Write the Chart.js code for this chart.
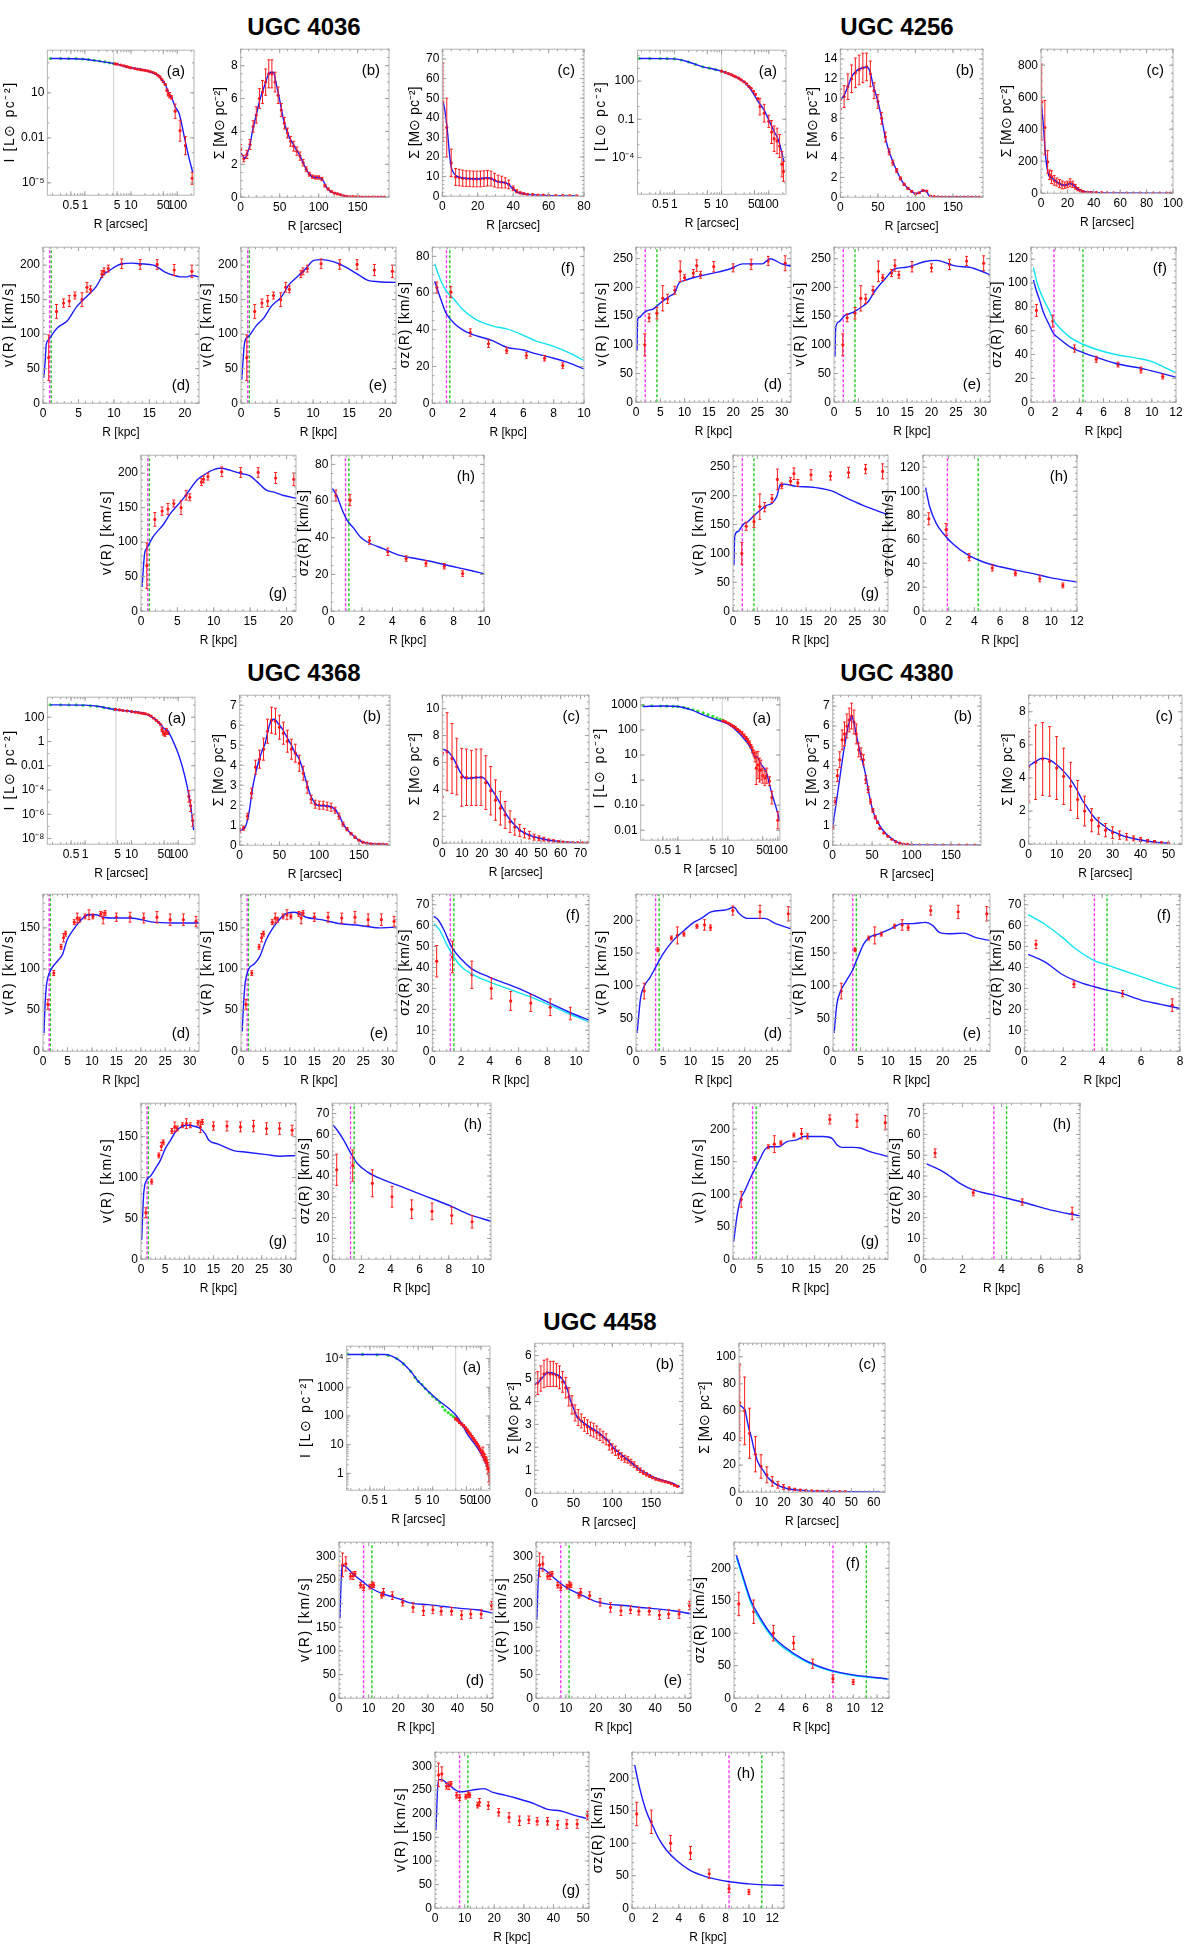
<!DOCTYPE html>
<html>
<head>
<meta charset="utf-8">
<script src="https://cdn.jsdelivr.net/npm/chart.js@4.4.1/dist/chart.umd.min.js"></script>
<style>
  html, body { margin: 0; padding: 0; background: #fff; }
  body { position: relative; width: 1200px; height: 1946px; overflow: hidden; font-family: "Liberation Sans", Arial, sans-serif; }
  .title { position: absolute; font-weight: bold; font-size: 24px; line-height: 24px; transform: translateX(-50%); white-space: nowrap; }
</style>
</head>
<body>
<div class="title" style="left:304px;top:15px">UGC 4036</div>
<div class="title" style="left:897px;top:15px">UGC 4256</div>
<div class="title" style="left:304px;top:661px">UGC 4368</div>
<div class="title" style="left:897px;top:661px">UGC 4380</div>
<div class="title" style="left:600px;top:1310px">UGC 4458</div>
<script>
// ---------- tick labels ----------
const logRTicks = [0.5, 1, 5, 10, 50, 100];
const logRLabels = ['0.5', '1', '5', '10', '50', '100'];
const yt4036 = [10, 0.01, 1e-5], yl4036 = ['10', '0.01', '10⁻⁵'];
const yt4256 = [100, 0.1, 1e-4], yl4256 = ['100', '0.1', '10⁻⁴'];
const yt4368 = [100, 1, 0.01, 1e-4, 1e-6, 1e-8], yl4368 = ['100', '1', '0.01', '10⁻⁴', '10⁻⁶', '10⁻⁸'];
const yt4380 = [1000, 100, 10, 1, 0.1, 0.01], yl4380 = ['1000', '100', '10', '1', '0.10', '0.01'];
const yt4458 = [1e4, 1000, 100, 10, 1], yl4458 = ['10⁴', '1000', '100', '10', '1'];

// ---------- UGC 4036 ----------
const a4036_R = [0.18, 0.5, 1, 2, 4.2, 10, 20, 38, 46, 50, 56, 68, 75, 90, 110, 147, 178, 216];
const a4036_I = [1950, 1900, 1750, 1300, 900, 470, 320, 150, 80, 55, 32, 7, 5, 1.2, 0.4, 0.007, 5e-4, 5e-5];
const a4036_gR = [0.18, 0.3, 0.45, 0.65, 0.9, 1.2, 1.6, 2.1, 2.7, 3.4, 4.2];
const a4036_gI = [1950, 1950, 1930, 1900, 1800, 1680, 1500, 1330, 1150, 1000, 900];
const a4036_rR = [4.5, 5, 6, 7, 8, 9, 10, 12, 14, 16, 18, 20, 23, 26, 30, 34, 38, 42, 46, 50, 55, 60, 64, 68, 75, 90, 115, 150, 210];
const a4036_rI = [870, 820, 720, 640, 570, 510, 470, 420, 380, 350, 335, 320, 290, 260, 225, 190, 150, 115, 80, 55, 36, 15, 8, 7, 5, 0.6, 0.03, 0.003, 2e-5];
const a4036_rF = [1.05, 1.05, 1.05, 1.05, 1.05, 1.05, 1.05, 1.05, 1.05, 1.05, 1.05, 1.05, 1.05, 1.05, 1.05, 1.05, 1.05, 1.05, 1.05, 1.05, 1.1, 1.2, 1.3, 1.5, 1.3, 3, 5, 4, 2.5];

const b4036_R = [0, 3, 5, 8, 12, 15, 20, 25, 30, 35, 38, 42, 45, 50, 55, 60, 65, 70, 75, 80, 85, 90, 95, 100, 105, 110, 115, 120, 125, 135, 150, 185];
const b4036_S = [2.7, 2.5, 2.35, 2.6, 3.2, 4.0, 5.0, 6.0, 6.7, 7.4, 7.6, 7.6, 7.0, 5.9, 4.7, 3.9, 3.4, 3.0, 2.6, 2.1, 1.6, 1.3, 1.2, 1.2, 1.05, 0.6, 0.35, 0.25, 0.2, 0.05, 0.01, 0];
const b4036_rR = [0, 4, 8, 12, 16, 20, 24, 28, 32, 36, 40, 44, 48, 52, 56, 60, 64, 68, 72, 76, 80, 84, 88, 92, 96, 100, 104, 108, 112, 116, 120, 124, 128, 132, 136, 140, 144, 148, 152, 156, 160, 164, 168, 172, 176, 180, 184];
const b4036_rS = [2.9, 2.35, 2.6, 3.2, 4.3, 5.0, 6.0, 6.4, 7.0, 7.5, 7.5, 7.0, 6.2, 5.3, 4.5, 3.9, 3.4, 3.1, 2.8, 2.5, 2.1, 1.7, 1.4, 1.25, 1.2, 1.2, 1.1, 0.7, 0.5, 0.35, 0.25, 0.2, 0.15, 0.08, 0.05, 0.04, 0.03, 0.02, 0.02, 0.01, 0.01, 0.01, 0.01, 0.01, 0.01, 0.01, 0.01];
const b4036_rE = [0.3, 0.2, 0.25, 0.3, 0.35, 0.5, 0.6, 0.7, 0.8, 0.85, 0.85, 0.6, 0.5, 0.4, 0.35, 0.3, 0.3, 0.3, 0.25, 0.25, 0.2, 0.15, 0.12, 0.1, 0.1, 0.1, 0.1, 0.08, 0.06, 0.05, 0.04, 0.03, 0.03, 0.02, 0.02, 0.02, 0.02, 0.02, 0.02, 0.02, 0.02, 0.02, 0.02, 0.02, 0.02, 0.02, 0.02];

const c4036_R = [0.3, 1, 2, 3, 4, 5, 6, 7.6, 10, 15, 20, 25, 28, 31.5, 36, 38, 40, 42.4, 45, 49, 55, 60, 70, 76];
const c4036_S = [48, 46, 40, 32, 22, 15, 12.5, 10.5, 9.6, 9, 8.8, 9.5, 8.8, 7.3, 6.8, 5.5, 3.7, 2.0, 1.4, 0.85, 0.5, 0.3, 0.2, 0.2];
const c4036_rR = [0.3, 2.5, 5, 7.5, 9.5, 11.5, 13.5, 15.5, 17.5, 19.5, 21.5, 23.5, 25.5, 27.5, 29.5, 31.5, 33.5, 35.5, 37.5, 40, 42, 44, 46, 48, 51, 54, 57, 60, 64, 68, 72, 76];
const c4036_rS = [48, 35, 17, 9.8, 9.5, 9.2, 9, 8.9, 8.8, 8.8, 8.8, 9, 9.2, 9, 8.2, 7.5, 7.2, 6.8, 6, 4, 2.5, 1.7, 1.3, 1, 0.8, 0.6, 0.5, 0.4, 0.3, 0.3, 0.25, 0.2];
const c4036_rE = [20, 15, 7, 4.3, 4.2, 4.1, 4, 4, 4, 4, 4, 4, 4, 3.8, 3.5, 3.2, 3, 2.6, 2.2, 1.2, 0.8, 0.5, 0.4, 0.3, 0.3, 0.2, 0.2, 0.2, 0.15, 0.15, 0.1, 0.1];

const v4036_R = [0.8, 1.9, 2.9, 3.7, 4.5, 5.5, 6.2, 6.7, 8.3, 8.6, 9.2, 11.1, 13.7, 16.1, 18.5, 21];
const v4036_V = [66, 133, 145, 148, 156, 150, 168, 165, 187, 191, 195, 202, 201, 201, 193, 191];
const v4036_E = [33, 10, 6, 8, 5, 10, 7, 5, 5, 5, 5, 7, 7, 7, 8, 9];
const d4036_R = [0.1, 0.3, 0.45, 0.8, 1.2, 2, 3, 3.4, 4.75, 5.5, 6.4, 7.5, 8.5, 9.5, 10.2, 11.2, 12.5, 13.7, 15.6, 17.2, 18.5, 19.4, 20.3, 21, 22];
const d4036_V = [37, 60, 85, 92, 98, 109, 116, 119, 140, 148, 157, 169, 186, 193, 198, 202, 203, 202, 200, 190, 185, 183, 183, 185, 183];
const e4036_R = [0.1, 0.3, 0.5, 1.06, 2.1, 3.2, 4.25, 5.6, 6.6, 8, 9, 10.1, 11.2, 12.8, 14.4, 16, 17.6, 19.1, 21.5];
const e4036_V = [34, 65, 88, 97, 112, 124, 141, 154, 171, 185, 195, 207, 208, 205, 198, 188, 178, 176, 175];
const g4036_R = [0.14, 0.5, 0.83, 1.74, 3.1, 4.0, 5.4, 6.3, 7.7, 8.6, 10, 10.9, 12.3, 13.7, 15, 16, 17.3, 18.3, 19.6, 21.3];
const g4036_V = [35, 84, 92, 109, 126, 141, 158, 170, 190, 197, 205, 207, 204, 199.5, 196, 187, 175, 172.5, 167.6, 163.7];

const s4036_R = [0.3, 1.22, 2.5, 3.7, 4.9, 6.2, 7.4, 8.6];
const s4036_S = [63, 60.5, 38.5, 32.4, 28.7, 26, 24.5, 20.5];
const s4036_E = [3, 3, 2, 2, 1.5, 1.5, 1.5, 1.5];
const f4036_R = [0.15, 0.3, 0.5, 0.8, 0.93, 1.5, 2, 2.55, 3, 4, 4.9, 6, 6.8, 8, 9, 10];
const f4036_S = [66.5, 63, 58, 51, 48.7, 43, 40, 37.8, 36.5, 34, 30.5, 29, 27, 24.5, 22, 18.7];
const f4036_cR = [0.15, 0.5, 0.93, 1.4, 2, 2.8, 4, 4.9, 6, 6.8, 8, 9, 10];
const f4036_cS = [76, 68, 61, 57, 51, 46, 42, 40.5, 37, 34, 31, 27.5, 23.3];
const h4036_R = [0.07, 0.39, 0.72, 1.04, 1.48, 1.9, 2.35, 3.43, 4.5, 5.6, 6.7, 7.8, 8.9, 10];
const h4036_S = [66.8, 62.3, 55, 49.5, 45, 40.4, 37.7, 34, 30.4, 28.6, 26.8, 24.6, 22.6, 20.4];
const dash4036 = [0.93, 1.15];

// ---------- UGC 4256 ----------
const a4256_R = [0.18, 0.5, 1, 2, 4, 6, 10, 20, 30, 40, 60, 80, 100, 130, 160, 210];
const a4256_I = [6000, 5900, 5600, 3200, 1330, 980, 610, 218, 88, 27, 2.4, 0.53, 0.088, 0.011, 0.0024, 5e-5];
const a4256_gR = [0.18, 0.3, 0.5, 0.7, 1, 1.4, 2, 2.8, 4, 5.5, 7.5, 10];
const a4256_gI = [6000, 6000, 5900, 5800, 5600, 4600, 3200, 2100, 1330, 1050, 800, 610];
const a4256_rR = [10, 12, 14, 16, 18, 20, 23, 26, 30, 34, 38, 42, 47, 52, 58, 65, 80, 100, 115, 130, 150, 170, 190, 205];
const a4256_rI = [610, 480, 390, 320, 260, 218, 170, 125, 88, 60, 38, 27, 16, 9, 4, 1.0, 0.3, 0.07, 0.01, 0.003, 0.002, 0.0008, 3e-5, 8e-6];
const a4256_rF = [1.05, 1.05, 1.05, 1.05, 1.05, 1.05, 1.05, 1.05, 1.05, 1.05, 1.05, 1.05, 1.1, 1.1, 1.2, 4.5, 5, 3, 8, 10, 10, 8, 10, 6];

const b4256_R = [0, 5, 10, 15, 20, 25, 30, 35, 38, 41, 44, 47, 50, 55, 60, 65, 70, 75, 80, 85, 90, 95, 100, 105, 110, 115, 118, 125, 150, 185];
const b4256_S = [9.9, 10.3, 11.2, 12.2, 12.7, 13.0, 13.1, 13.2, 13.0, 12.3, 11.2, 10.5, 9.7, 8.0, 6.0, 4.6, 3.6, 2.7, 1.9, 1.3, 0.9, 0.6, 0.35, 0.45, 0.68, 0.6, 0.15, 0.05, 0.02, 0];
const b4256_rR = [0, 5, 10, 15, 20, 25, 30, 35, 40, 45, 50, 55, 60, 65, 70, 75, 80, 85, 90, 95, 100, 105, 110, 115, 120, 125, 130, 135, 140, 145, 150, 155, 160, 165, 170, 175, 180, 185];
const b4256_rS = [9.9, 10.2, 11.2, 12.0, 12.6, 12.9, 13.1, 13.2, 12.5, 10.8, 9.7, 8.0, 6.1, 4.6, 3.5, 2.7, 1.9, 1.3, 0.9, 0.6, 0.35, 0.45, 0.68, 0.62, 0.12, 0.05, 0.03, 0.02, 0.02, 0.01, 0.01, 0.01, 0.01, 0.01, 0.01, 0.01, 0.01, 0.01];
const b4256_rE = [1.0, 1.1, 1.3, 1.4, 1.5, 1.5, 1.5, 1.4, 1.3, 0.8, 0.7, 0.6, 0.5, 0.3, 0.25, 0.2, 0.15, 0.12, 0.1, 0.08, 0.06, 0.06, 0.07, 0.07, 0.04, 0.03, 0.02, 0.02, 0.02, 0.02, 0.02, 0.02, 0.02, 0.02, 0.02, 0.02, 0.02, 0.02];

const c4256_R = [0.3, 1, 2, 3, 4, 5, 6, 8, 10, 12, 15, 18, 20, 22, 24, 26, 28, 30, 35, 40, 50, 60, 100];
const c4256_S = [560, 500, 400, 280, 190, 140, 110, 95, 85, 70, 55, 50, 55, 60, 55, 40, 25, 15, 8, 5, 2, 1, 0];
const c4256_rR = [0.5, 2.9, 5, 6.4, 8, 10, 12, 14, 16, 18, 20, 22, 24, 26, 28, 30, 32, 35, 38, 42, 46, 50, 55, 60, 65, 70, 75, 80, 85, 90, 95, 98];
const c4256_rS = [570, 410, 196, 115, 100, 80, 70, 60, 52, 50, 55, 65, 55, 40, 25, 15, 10, 7, 5, 4, 3, 2, 1.5, 1, 1, 1, 0.5, 0.5, 0.5, 0.5, 0.5, 0.5];
const c4256_rE = [237, 170, 70, 30, 40, 30, 25, 25, 25, 20, 20, 25, 20, 15, 10, 6, 4, 3, 2, 2, 1, 1, 1, 1, 1, 1, 1, 1, 1, 1, 1, 1];

const v4256_R = [1.8, 2.7, 4.3, 5.5, 6.5, 8, 9.1, 10, 11.8, 12.5, 13.3, 16, 20, 23.7, 27.2, 30.7];
const v4256_V = [100, 147, 155, 181, 180, 195, 228, 217, 225, 238, 222, 236, 234, 240, 246, 242];
const v4256_E = [19, 7, 10, 22, 8, 7, 18, 5, 6, 10, 6, 9, 7, 9, 8, 13];
const d4256_R = [0.2, 0.35, 0.8, 1.2, 1.8, 2.5, 3.5, 4.5, 5.5, 7, 8, 8.8, 10, 12.3, 15.4, 19.3, 22, 26, 27.6, 30, 31.9];
const d4256_V = [90, 145, 148, 152, 157, 160, 162, 169, 176, 185, 191, 207, 212, 218, 224, 232, 241, 241, 250, 241, 237];
const e4256_R = [0.2, 0.35, 1, 2.2, 3.5, 4.6, 5.5, 6.9, 8.5, 10.5, 12.4, 14.8, 18.7, 21, 25, 27.8, 30, 32];
const e4256_V = [80, 130, 140, 151, 155, 160, 165, 174, 195, 215, 232, 235, 245, 247, 237, 235, 229, 222];
const g4256_R = [0.2, 0.35, 1, 2.2, 2.9, 4.9, 6.9, 8, 9, 9.7, 10.5, 13, 15.8, 19.9, 24, 27.3, 31.8];
const g4256_V = [80, 130, 138, 151, 154, 170, 183, 187, 199, 219, 220, 216, 215, 209, 193, 181, 167];

const s4256_R = [0.45, 1.8, 3.6, 5.4, 7.2, 9.1, 10.9];
const s4256_S = [77, 68, 45, 36, 31.5, 27, 21.5];
const s4256_E = [5, 5, 3, 2.5, 2, 2.5, 2];
const f4256_R = [0.2, 0.4, 0.73, 1, 1.5, 1.84, 2.5, 3.3, 4.3, 5.5, 7.2, 9.3, 10.5, 12];
const f4256_S = [102.5, 95, 85, 76, 65, 58, 52, 46, 41.6, 37.4, 32, 28, 25, 21];
const f4256_cR = [0.2, 0.5, 1, 1.5, 1.84, 2.5, 3.3, 4.3, 5.5, 7, 8.7, 9.9, 11, 12];
const f4256_cS = [113, 100, 87, 77, 69, 61, 54, 48.6, 44, 40, 37, 34.5, 29.5, 24.7];
const h4256_R = [0.2, 0.52, 1.04, 1.56, 2.34, 3.4, 4.7, 6, 7.3, 8.6, 9.9, 12];
const h4256_S = [103, 87, 73, 65, 56, 47.5, 41, 37, 34, 31.3, 28, 24.3];
const dash4256 = [1.9, 4.3];

// ---------- UGC 4368 ----------
const a4368_R = [0.18, 1, 2, 4, 10, 20, 30, 40, 50, 62, 178, 215];
const a4368_I = [1050, 1000, 760, 460, 295, 190, 83, 32, 12, 6.6, 1.5e-5, 5e-8];
const a4368_gR = [0.18, 0.3, 0.45, 0.65, 0.9, 1.3, 1.8, 2.5, 3.3, 4.2];
const a4368_gI = [1050, 1050, 1040, 1030, 960, 880, 800, 650, 540, 450];
const a4368_rR = [4.5, 5.5, 6.5, 8, 10, 12, 14, 16, 18, 20, 23, 26, 30, 34, 38, 42, 45, 48, 52, 56, 60, 170, 185, 205];
const a4368_rI = [440, 400, 360, 330, 295, 260, 240, 220, 205, 190, 160, 125, 83, 55, 38, 25, 10, 5, 4, 8, 5, 3e-5, 5e-6, 3e-7];
const a4368_rF = [1.05, 1.05, 1.05, 1.05, 1.05, 1.05, 1.05, 1.05, 1.05, 1.05, 1.05, 1.05, 1.05, 1.05, 1.05, 1.05, 1.5, 1.5, 1.5, 1.5, 1.3, 3, 3, 3];

const b4368_R = [0, 4, 8, 12, 16, 20, 24, 28, 32, 36, 40, 44, 48, 53, 58, 65, 70, 75, 80, 85, 89, 93, 97, 104, 111, 116, 121, 126, 131, 136, 140, 145, 150, 155, 160, 170, 180, 185];
const b4368_S = [0.75, 0.8, 1.0, 1.7, 2.8, 3.6, 4.2, 4.7, 5.1, 5.8, 6.25, 6.3, 6.1, 5.85, 5.5, 5.0, 4.6, 4.3, 3.7, 3.0, 2.5, 2.2, 2.0, 1.97, 1.96, 1.9, 1.75, 1.4, 1.0, 0.75, 0.58, 0.4, 0.25, 0.15, 0.1, 0.06, 0.05, 0.03];
const b4368_rR = [0, 5, 10, 15, 20, 25, 30, 35, 40, 45, 50, 55, 60, 65, 70, 75, 80, 85, 90, 95, 100, 105, 110, 115, 120, 125, 130, 135, 140, 145, 150, 155, 160, 165, 170, 175, 180, 185];
const b4368_rS = [0.75, 0.85, 1.45, 2.6, 3.9, 4.3, 4.8, 5.7, 6.25, 6.2, 5.9, 5.6, 5.2, 4.8, 4.6, 4.1, 3.6, 2.9, 2.3, 2.05, 2.0, 2.0, 1.95, 1.9, 1.75, 1.45, 1.05, 0.8, 0.58, 0.4, 0.25, 0.15, 0.1, 0.07, 0.06, 0.05, 0.05, 0.03];
const b4368_rE = [0.1, 0.1, 0.15, 0.25, 0.35, 0.45, 0.55, 0.6, 0.65, 0.65, 0.6, 0.55, 0.55, 0.5, 0.45, 0.4, 0.35, 0.3, 0.2, 0.2, 0.2, 0.2, 0.2, 0.2, 0.15, 0.15, 0.1, 0.08, 0.06, 0.05, 0.03, 0.03, 0.02, 0.02, 0.02, 0.02, 0.02, 0.02];

const c4368_R = [0, 3, 6, 9, 12, 15, 20, 22, 25, 28, 31, 34, 37, 40, 45, 50, 55, 60, 65, 70, 74];
const c4368_S = [7.0, 6.8, 6.2, 5.3, 4.8, 4.85, 4.9, 4.7, 4.0, 3.3, 2.5, 1.8, 1.3, 0.9, 0.55, 0.35, 0.2, 0.12, 0.06, 0.03, 0.02];
const c4368_rR = [0, 2.4, 4.9, 7.3, 9.8, 12.2, 14.7, 17.1, 19.6, 22, 24.5, 26.9, 29.4, 31.8, 34.3, 36.7, 39.2, 41.6, 44.1, 46.5, 49, 51.4, 53.9, 56.3, 58.8, 61.2, 63.7, 66.1, 68.6, 71, 73.5];
const c4368_rS = [6.7, 6.8, 6.3, 5.7, 4.9, 4.9, 4.85, 4.9, 4.9, 4.5, 3.9, 3.2, 2.6, 2.1, 1.6, 1.2, 0.95, 0.75, 0.6, 0.45, 0.37, 0.3, 0.22, 0.17, 0.12, 0.09, 0.07, 0.05, 0.04, 0.03, 0.02];
const c4368_rE = [3.3, 2.9, 2.6, 2.1, 2.15, 2.1, 2.05, 2.1, 2.1, 2.0, 1.8, 1.5, 1.25, 1.0, 0.8, 0.6, 0.45, 0.35, 0.28, 0.22, 0.18, 0.14, 0.1, 0.08, 0.06, 0.05, 0.04, 0.03, 0.02, 0.02, 0.02];

const v4368_R = [1.0, 2.2, 3.7, 4.2, 4.6, 6.4, 7.0, 7.5, 8.6, 9.4, 10.2, 11.8, 12.3, 12.7, 15, 17.8, 20.6, 23.3, 26, 28.7, 31.3];
const v4368_V = [57, 95, 127, 138, 143, 157, 162, 160, 164, 166, 164, 167, 162, 168, 163, 163, 162, 163, 160, 160, 158];
const v4368_E = [6, 3, 3, 5, 3, 3, 6, 3, 3, 6, 3, 3, 7, 3, 5, 6, 6, 7, 7, 7, 6];
const d4368_R = [0.2, 0.4, 0.7, 1.0, 1.8, 3, 4, 4.9, 6.1, 7.7, 9.2, 10.8, 12.3, 14.7, 17.8, 22.5, 26.4, 31.9];
const d4368_V = [22, 55, 80, 90, 101, 110, 118, 135, 147, 159, 166, 166, 163, 162, 162, 157, 156, 156];
const e4368_R = [0.23, 0.5, 0.8, 1.57, 2.7, 3.9, 5.1, 6.3, 7.8, 9.4, 11, 13.3, 16.4, 20.4, 24.3, 28.2, 31.9];
const e4368_V = [24, 55, 80, 100, 106, 116, 135, 148, 160, 168, 169, 163, 160, 155, 153, 150, 151];
const g4368_R = [0.14, 0.55, 1.24, 1.93, 2.97, 4, 5, 6.1, 7.1, 8.5, 9.9, 11.6, 12.3, 13.3, 14, 16, 19.2, 21.9, 26, 28.8, 32];
const g4368_V = [23.6, 80, 97.6, 101.6, 111, 121, 135, 145.5, 155.7, 162.6, 164, 161.8, 160, 153.7, 146, 141, 133, 131, 128, 126, 127];

const s4368_R = [0.3, 1.4, 2.75, 4.1, 5.45, 6.85, 8.2, 9.6];
const s4368_S = [43, 45, 36.5, 30, 24, 23, 21, 18];
const s4368_E = [7.5, 7.5, 6.5, 5, 4.5, 4, 4, 3];
const f4368_R = [0.1, 0.4, 0.8, 1.33, 2, 2.7, 4, 6, 8, 10, 10.9];
const f4368_S = [64.4, 62.8, 58, 50, 44, 39.6, 35.3, 30, 23.6, 17.3, 14.9];
const f4368_cR = [0.1, 0.5, 1, 1.5, 2, 3, 4, 5, 6, 7, 8, 9, 10, 10.9];
const f4368_cS = [61, 58, 51, 45, 40.5, 36, 33, 30.5, 28, 25.5, 22.5, 19.5, 16.5, 14];
const h4368_R = [0.05, 0.34, 0.8, 1.26, 1.72, 2.4, 3.56, 4.7, 5.86, 7, 8.16, 9.3, 11];
const h4368_S = [64.5, 62, 57, 51, 46, 42, 38, 35, 31.8, 28.7, 25.5, 21.8, 18];
const dash4368 = [1.25, 1.5];

// ---------- UGC 4380 ----------
const a4380_R = [0.2, 0.5, 1, 1.86, 3.2, 5.4, 7.7, 11, 15.5, 22, 29, 34.6, 38, 45, 58, 76, 100, 108];
const a4380_I = [860, 910, 860, 630, 400, 270, 215, 160, 86, 40, 18.5, 8.6, 8.6, 4.6, 2.15, 0.29, 0.046, 0.025];
const a4380_gR = [0.2, 0.3, 0.45, 0.6, 0.8, 1.0, 1.3, 1.6, 2.0, 2.5, 3.2, 4, 5, 6, 7, 8];
const a4380_gI = [950, 920, 900, 890, 880, 860, 800, 720, 640, 560, 480, 410, 350, 300, 265, 240];
const a4380_rR = [8, 9, 10, 11, 12, 13, 14, 15.5, 17, 19, 21, 23, 25, 27, 29, 31, 33, 35, 37, 40, 43, 46, 50, 55, 60, 68, 76, 100];
const a4380_rI = [230, 210, 190, 170, 150, 140, 125, 105, 90, 75, 60, 48, 38, 30, 22, 16, 12, 8, 3, 4, 2.5, 2.5, 1.5, 1.2, 1.5, 0.9, 0.2, 0.025];
const a4380_rF = [1.05, 1.05, 1.05, 1.05, 1.08, 1.08, 1.1, 1.1, 1.1, 1.15, 1.15, 1.15, 1.2, 1.2, 1.2, 1.3, 1.3, 1.5, 4.5, 3.5, 3, 2.5, 2, 2, 2, 1.5, 1.8, 2.2];

const b4380_R = [0, 4.9, 9.8, 14.6, 19.5, 22, 24.4, 26, 29.3, 34, 41.5, 46, 51, 58.5, 66, 73, 83, 100, 120, 187];
const b4380_S = [0.9, 2.24, 3.6, 4.9, 5.95, 6.3, 6.5, 6.3, 5.7, 4.8, 3.6, 2.6, 1.73, 1.06, 0.64, 0.39, 0.13, 0.02, 0.01, 0];
const b4380_rR = [0, 3, 6, 9, 12, 15, 18, 21, 24, 27, 30, 33, 36, 39, 42, 45, 48, 51, 54, 57, 60, 65, 70, 75, 80, 85, 90, 95, 100, 110, 120, 130, 140, 150, 160, 170, 180];
const b4380_rS = [0.9, 2.2, 3.5, 4.3, 5.3, 5.6, 6.0, 6.3, 6.5, 6.2, 5.6, 4.8, 4.6, 4.3, 3.3, 2.8, 2.2, 1.75, 1.4, 1.15, 0.85, 0.62, 0.45, 0.3, 0.18, 0.1, 0.06, 0.04, 0.02, 0.01, 0.01, 0.01, 0.01, 0.01, 0.01, 0.01, 0.01];
const b4380_rE = [0.1, 0.2, 0.3, 0.4, 0.5, 0.6, 0.6, 0.6, 0.65, 0.6, 0.5, 0.35, 0.3, 0.25, 0.2, 0.15, 0.12, 0.1, 0.08, 0.06, 0.05, 0.04, 0.03, 0.02, 0.02, 0.02, 0.02, 0.02, 0.02, 0.02, 0.02, 0.02, 0.02, 0.02, 0.02, 0.02, 0.02];

const c4380_R = [0, 2.5, 5, 7.5, 10, 12.5, 15, 17.5, 19, 21, 23, 25, 27, 29, 31, 33, 36, 39.5, 43, 46, 50];
const c4380_S = [4.72, 5.0, 5.2, 5.1, 4.8, 4.4, 3.9, 3.2, 2.7, 2.2, 1.7, 1.35, 1.1, 0.85, 0.7, 0.55, 0.4, 0.27, 0.17, 0.1, 0.06];
const c4380_rR = [0, 2.5, 5, 7.5, 10, 12.5, 15, 17.5, 20, 22.5, 25, 27.5, 30, 32.5, 35, 37.5, 40, 42.5, 45, 47.5, 50];
const c4380_rS = [4.7, 4.95, 5.15, 5.0, 4.6, 4.1, 3.5, 2.7, 2.0, 1.45, 1.1, 0.85, 0.7, 0.55, 0.45, 0.35, 0.28, 0.2, 0.15, 0.1, 0.07];
const c4380_rE = [2.1, 2.25, 2.2, 2.1, 1.9, 1.7, 1.45, 1.15, 0.9, 0.7, 0.5, 0.4, 0.35, 0.25, 0.2, 0.15, 0.12, 0.08, 0.06, 0.04, 0.03];

const v4380_R = [1.5, 4.0, 6.5, 7.6, 8.8, 11.2, 12.6, 13.7, 17.8, 22.8, 28];
const v4380_V = [92, 155, 173, 177, 179, 191, 193, 189, 215, 213, 210];
const v4380_E = [12, 3, 3, 13, 3, 3, 8, 4, 7, 10, 11];
const d4380_R = [0.2, 0.5, 0.84, 1.54, 2.6, 3.64, 5, 6.8, 8.9, 10.6, 12, 13.8, 16.6, 18, 19, 20.4, 23.6, 25.7, 28.5];
const d4380_V = [28, 55, 82, 100, 113, 129, 149, 169, 185, 197, 203, 213, 216, 220, 210, 203, 203, 195, 187];
const e4380_R = [0.2, 0.7, 1.4, 2.45, 3.5, 4.55, 5.6, 6.65, 8.4, 10.5, 12.6, 14.4, 16.8, 18.2, 19.3, 21, 23.8, 25.9, 28.6];
const e4380_V = [28, 72, 92, 108, 123, 144, 164, 174, 179.5, 187, 195, 195, 197, 192, 182, 179.5, 180.5, 174, 169];
const g4380_R = [0.12, 0.73, 1.35, 2.26, 3.2, 4.1, 5, 5.9, 6.85, 8.4, 9.9, 11.7, 13, 14.8, 16.6, 18.2, 19.1, 20, 22.1, 23.4, 25.2, 28.5];
const g4380_V = [27, 66, 91, 107, 125, 140, 155, 169, 173, 173, 181, 183.6, 188.7, 188.7, 188.7, 186, 176, 172, 172, 171, 165.6, 158];

const s4380_R = [0.6, 2.55, 5.05, 7.6];
const s4380_S = [51, 32, 27.5, 22];
const s4380_E = [2, 1.5, 1.5, 3];
const f4380_R = [0.2, 1.03, 2, 3, 3.6, 4.25, 5, 6, 7, 8];
const f4380_S = [46.3, 42.8, 36.4, 32.4, 30.8, 29.2, 27.6, 24.4, 22.4, 20.4];
const f4380_cR = [0.2, 1, 2, 2.6, 3.6, 4.25, 5, 6, 7, 8];
const f4380_cS = [65.2, 61, 54, 49.2, 43.3, 41.2, 38.8, 35.6, 32.4, 29.6];
const h4380_R = [0.17, 1.02, 1.87, 2.55, 3.57, 4.26, 5.28, 6.47, 8];
const h4380_S = [45.8, 42, 36.5, 33.3, 30.9, 29.3, 26.9, 23.7, 20.8];
const dash4380 = [3.6, 4.25];

// ---------- UGC 4458 ----------
const a4458_R = [0.17, 1, 2, 3.6, 4.8, 6.5, 11.7, 21, 30, 38, 51, 76, 100, 137, 150];
const a4458_I = [13800, 13800, 8800, 3400, 1760, 1050, 410, 190, 108, 63, 25, 10, 5, 1.7, 1.3];
const a4458_gR = [0.17, 0.35, 0.7, 1.2, 1.8, 2.5, 3.5, 4.3, 5, 6, 7, 8.5, 10, 12, 14, 16, 18, 21, 24, 27, 30];
const a4458_gI = [14500, 14000, 13500, 13000, 10000, 6500, 3600, 2200, 1600, 1250, 900, 640, 480, 380, 290, 210, 160, 130, 110, 95, 85];
const a4458_rR = [30, 33, 36, 40, 44, 48, 52, 56, 60, 65, 70, 75, 80, 85, 90, 95, 100, 105, 110, 115, 120, 125, 130, 135, 140, 145, 150];
const a4458_rI = [80, 72, 60, 52, 45, 38, 32, 27, 23, 19, 16, 13.5, 11.5, 10, 8.5, 7, 6, 5, 5.5, 3.8, 3.5, 3, 2.5, 2, 1.5, 1.0, 0.8];
const a4458_rF = [1.1, 1.1, 1.1, 1.1, 1.1, 1.1, 1.1, 1.1, 1.1, 1.1, 1.1, 1.1, 1.1, 1.1, 1.1, 1.1, 1.15, 1.2, 1.5, 1.3, 1.3, 1.3, 1.4, 1.5, 1.6, 2, 2];

const b4458_R = [0, 5, 9, 13, 17, 22, 26, 30, 35, 41, 46, 50, 54, 58, 62, 70, 78, 84, 89, 94, 100, 105, 113, 121, 129, 137, 145, 153, 163, 174, 187];
const b4458_S = [4.76, 4.85, 5.0, 5.15, 5.27, 5.25, 5.2, 5.15, 5.0, 4.64, 4.06, 3.7, 3.36, 3.2, 3.1, 2.9, 2.74, 2.6, 2.45, 2.3, 2.05, 1.87, 1.65, 1.43, 1.2, 1.0, 0.85, 0.7, 0.58, 0.48, 0.29];
const b4458_rR = [0, 4, 8, 12, 16, 20, 24, 28, 32, 36, 40, 44, 48, 52, 56, 60, 64, 68, 72, 76, 80, 84, 88, 92, 96, 100, 104, 108, 112, 116, 120, 124, 128, 132, 136, 140, 144, 148, 152, 156, 160, 164, 168, 172, 176, 180, 184];
const b4458_rS = [4.75, 4.8, 5.0, 5.2, 5.25, 5.2, 5.2, 5.15, 5.05, 4.85, 4.6, 4.2, 3.85, 3.5, 3.3, 3.15, 3.0, 2.9, 2.8, 2.75, 2.65, 2.55, 2.45, 2.35, 2.1, 1.95, 1.85, 1.7, 1.6, 1.5, 1.45, 1.35, 1.25, 1.1, 1.0, 0.9, 0.82, 0.75, 0.68, 0.62, 0.58, 0.54, 0.5, 0.47, 0.42, 0.35, 0.3];
const b4458_rE = [0.5, 0.5, 0.55, 0.6, 0.6, 0.55, 0.55, 0.5, 0.5, 0.45, 0.45, 0.4, 0.4, 0.35, 0.35, 0.3, 0.3, 0.3, 0.3, 0.3, 0.28, 0.25, 0.25, 0.24, 0.22, 0.2, 0.2, 0.18, 0.16, 0.15, 0.14, 0.13, 0.12, 0.1, 0.1, 0.08, 0.07, 0.06, 0.05, 0.05, 0.04, 0.04, 0.04, 0.03, 0.03, 0.03, 0.03];

const c4458_R = [0, 1, 2, 2.7, 3.5, 4.5, 5.5, 6.5, 7.5, 8.2, 9.5, 10.9, 12.5, 14.5, 16, 18, 20, 23.6, 27, 30, 35, 40, 50, 63];
const c4458_S = [65, 63.5, 62, 60.5, 54, 46, 40.5, 33, 27, 23, 19, 15.7, 11.5, 8.2, 6.3, 4.5, 3.3, 2.0, 1.4, 1.0, 0.7, 0.5, 0.3, 0.15];
const c4458_rR = [0.3, 2.5, 4.7, 7.3, 9.8, 12.4, 14.8, 17.3, 19.8, 22.3, 24.8, 27.3, 29.8, 32.3, 34.8, 37.3, 39.8, 42.3, 44.8, 47.3];
const c4458_rS = [66, 60, 43.5, 28, 19, 12.8, 8, 5.5, 3.8, 2.7, 2.0, 1.5, 1.2, 1.0, 0.8, 0.7, 0.6, 0.5, 0.45, 0.4];
const c4458_rE = [28, 25, 18.5, 13, 8.7, 5.9, 3.5, 2.5, 1.8, 1.2, 0.9, 0.6, 0.5, 0.4, 0.3, 0.3, 0.25, 0.2, 0.2, 0.15];

const v4458_R = [1.2, 2.3, 3.9, 4.7, 5.4, 7.3, 8.3, 10.4, 11.2, 11.7, 14.4, 15.0, 18, 21.5, 25, 28.5, 31.7, 34.5, 38, 41.4, 44.5, 48, 51.5];
const v4458_V = [282, 284, 258, 259, 263, 239, 234, 236, 240, 239, 218, 224, 217, 203, 192, 185, 187, 184, 184, 176, 178, 178, 196];
const v4458_E = [25, 15, 6, 8, 5, 6, 6, 5, 6, 5, 6, 8, 8, 8, 10, 10, 8, 8, 8, 9, 9, 9, 9];
const d4458_R = [0.3, 1.0, 1.66, 2.5, 4.4, 7.9, 11.3, 14.8, 20.3, 24.4, 30, 35.5, 41, 46.5, 52];
const d4458_V = [169, 279, 280, 277, 265, 247, 231, 221, 210, 201, 198, 194, 190, 187, 180];
const e4458_R = [0.28, 1.0, 2.6, 5.4, 8.8, 11.6, 15.7, 19.9, 24, 29.6, 35, 40.6, 46, 52];
const e4458_V = [166, 275, 273, 258, 240, 229, 217, 205, 199, 196, 192, 189, 185, 178.5];
const g4458_R = [0.3, 1.1, 2.2, 3.9, 7.2, 8.6, 10.5, 13.8, 16.6, 19.3, 22.6, 27, 32.6, 38.1, 42.5, 46.9, 51.1];
const g4458_V = [165, 272, 272, 265, 249, 246, 247.5, 251, 253, 245.6, 240.6, 233.6, 223, 209, 205.7, 197, 190];

const s4458_R = [0.4, 1.65, 3.3, 5.0, 6.6, 8.3, 10];
const s4458_S = [145, 133, 100, 85, 53, 30, 25];
const s4458_E = [18, 18, 12, 10, 7, 6, 4];
const f4458_R = [0.2, 0.76, 1.44, 2.13, 3.16, 4.2, 5.9, 8, 10, 13];
const f4458_S = [220, 187, 149, 125.6, 97.4, 79.5, 59, 43.6, 35.9, 29.7];
const f4458_cR = [0.2, 0.76, 1.44, 2.13, 3.16, 4.2, 5.9, 8, 10, 13];
const f4458_cS = [216, 183, 145, 122, 94.5, 77, 57.5, 42.5, 35, 29.2];
const h4458_R = [0.23, 0.65, 1.22, 1.79, 2.35, 2.92, 3.77, 4.9, 6.3, 8.2, 10, 11.4, 13];
const h4458_S = [220, 185, 149, 126, 105, 90, 74, 59, 48.7, 41, 37.4, 35.9, 34.9];
const dash4458 = [8.3, 11.1];

// ---------- drawing ----------
Chart.defaults.font.family = '"Liberation Sans", Arial, Helvetica, sans-serif';
Chart.defaults.font.size = 12;
Chart.defaults.color = '#000';

const BLUE = '#1c1cff', CYAN = '#10e4f4', RED = '#ff1a1a', GREEN = '#30e030', MAG = '#ff33ff', DGREEN = '#22cc22', GRAY = '#cfcfcf';
const FONT = '"Liberation Sans", Arial, Helvetica, sans-serif';

function xy(R, V) { return R.map((r, i) => ({ x: r, y: V[i] })); }
function line(R, V, color) {
  return { data: xy(R, V), borderColor: color || BLUE, borderWidth: 1.4, pointRadius: 0, cubicInterpolationMode: 'monotone', fill: false };
}
function pts(R, V, E, color) {
  const c = color || RED;
  return { data: xy(R, V), showLine: false, pointRadius: 1.6, pointBackgroundColor: c, pointBorderWidth: 0, borderColor: c, err: E };
}
function ptsF(R, V, F, color) {
  const c = color || RED;
  return { data: xy(R, V), showLine: false, pointRadius: 1.6, pointBackgroundColor: c, pointBorderWidth: 0, borderColor: c, errF: F };
}
function vline(x, y0, y1, color, dash) {
  return { data: [{ x: x, y: y0 }, { x: x, y: y1 }], borderColor: color, borderWidth: dash ? 1.4 : 1, borderDash: dash || [], pointRadius: 0 };
}

// axis helpers; y titles are drawn by the frame plugin (slightly spaced out along the axis like the original)
function lin(min, max, step, title) {
  return {
    step: step, title: title,
    scale: {
      type: 'linear', min: min, max: max,
      title: { display: false },
      grid: { display: false, drawTicks: false }, border: { display: false },
      ticks: { autoSkip: false, maxRotation: 0, padding: 3 },
      afterBuildTicks: s => {
        const t = [];
        for (let v = min; v <= max + step * 1e-6; v += step) t.push({ value: +v.toFixed(6) });
        s.ticks = t;
      }
    }
  };
}
function lg(min, max, vals, labels, title) {
  return {
    step: 'log', title: title,
    scale: {
      type: 'logarithmic', min: min, max: max,
      title: { display: false },
      grid: { display: false, drawTicks: false }, border: { display: false },
      ticks: { autoSkip: false, maxRotation: 0, padding: 3, callback: v => { const i = vals.indexOf(v); return i >= 0 ? labels[i] : ''; } },
      afterBuildTicks: s => { s.ticks = vals.map(v => ({ value: v })); }
    }
  };
}
function withXTitle(ax) {
  ax.scale.title = { display: true, text: ax.title, padding: { top: 2, bottom: 1 } };
  return ax;
}

function minorVals(s, step) {
  const out = [];
  if (step === 'log') {
    const k0 = Math.floor(Math.log10(s.min)), k1 = Math.ceil(Math.log10(s.max));
    const dense = (k1 - k0) <= 6;
    for (let k = k0; k <= k1; k++) {
      for (let m = 1; m <= 9; m++) {
        if (m > 1 && !dense) break;
        const v = m * Math.pow(10, k);
        if (v >= s.min && v <= s.max) out.push(v);
      }
    }
  } else {
    const lead = Math.round(step / Math.pow(10, Math.floor(Math.log10(step))));
    const ms = step / (lead === 2 ? 4 : 5);
    for (let v = s.min; v <= s.max + 1e-9; v += ms) out.push(v);
  }
  return out;
}

const YLEN = { 'I [L⊙ pc⁻²]': 88, 'Σ [M⊙ pc⁻²]': 72, 'v(R) [km/s]': 92, 'σz(R) [km/s]': 86 };

const framePlugin = {
  id: 'frame',
  afterDatasetsDraw(chart) {
    const ctx = chart.ctx, a = chart.chartArea, xs = chart.scales.x, ys = chart.scales.y;
    ctx.save();
    ctx.beginPath();
    ctx.rect(a.left, a.top, a.right - a.left, a.bottom - a.top);
    ctx.clip();
    chart.data.datasets.forEach(ds => {
      const E = ds.err || ds.errF;
      if (!E) return;
      ctx.strokeStyle = ds.borderColor;
      ctx.lineWidth = 1;
      ds.data.forEach((p, j) => {
        const lo = ds.errF ? p.y / E[j] : p.y - E[j];
        const hi = ds.errF ? p.y * E[j] : p.y + E[j];
        const x = xs.getPixelForValue(p.x), y1 = ys.getPixelForValue(lo), y2 = ys.getPixelForValue(hi);
        ctx.beginPath();
        ctx.moveTo(x, y1); ctx.lineTo(x, y2);
        ctx.moveTo(x - 1.5, y1); ctx.lineTo(x + 1.5, y1);
        ctx.moveTo(x - 1.5, y2); ctx.lineTo(x + 1.5, y2);
        ctx.stroke();
      });
    });
    ctx.restore();
  },
  afterDraw(chart, args, o) {
    const ctx = chart.ctx, a = chart.chartArea, xs = chart.scales.x, ys = chart.scales.y;
    ctx.save();
    ctx.strokeStyle = '#b4b4b4';
    ctx.lineWidth = 1;
    ctx.strokeRect(a.left, a.top, a.right - a.left, a.bottom - a.top);
    ctx.strokeStyle = '#a0a0a0';
    const tick = (s, vals, len) => vals.forEach(v => {
      const p = s.getPixelForValue(v);
      ctx.beginPath();
      if (s.isHorizontal()) {
        ctx.moveTo(p, a.bottom); ctx.lineTo(p, a.bottom - len);
        ctx.moveTo(p, a.top); ctx.lineTo(p, a.top + len);
      } else {
        ctx.moveTo(a.left, p); ctx.lineTo(a.left + len, p);
        ctx.moveTo(a.right, p); ctx.lineTo(a.right - len, p);
      }
      ctx.stroke();
    });
    tick(xs, minorVals(xs, o.xs), 2);
    tick(ys, minorVals(ys, o.ys), 2);
    tick(xs, xs.ticks.map(t => t.value), 4);
    tick(ys, ys.ticks.map(t => t.value), 4);
    ctx.fillStyle = '#000';
    if (o.label) {
      ctx.font = '15px ' + FONT;
      ctx.textAlign = 'right';
      ctx.textBaseline = 'middle';
      ctx.fillText(o.label, a.right - (o.labelDx || 9), o.bottom ? a.bottom - 17 : a.top + 22);
    }
    if (o.ytitle) {
      ctx.font = '14px ' + FONT;
      const t = o.ytitle, target = YLEN[t] || 0;
      const w = ctx.measureText(t).width;
      ctx.translate(ys.left - 8, (a.top + a.bottom) / 2);
      ctx.rotate(-Math.PI / 2);
      ctx.textBaseline = 'middle';
      let sp = 0;
      if ('letterSpacing' in ctx && target > w) {
        sp = Math.min(1.6, (target - w) / Math.max(1, [...t].length - 1));
        ctx.letterSpacing = sp.toFixed(2) + 'px';
      }
      const len = w + sp * ([...t].length - 1);
      ctx.textAlign = 'left';
      ctx.fillText(t, -len / 2, 0);
    }
    ctx.restore();
  }
};
Chart.register(framePlugin);

function panel(box, o) {
  const L = box[0], T = box[1], pw = box[2] - box[0], ph = box[3] - box[1];
  const cv = document.createElement('canvas');
  cv.width = pw + 90; cv.height = ph + 60;
  cv.style.position = 'absolute';
  document.body.appendChild(cv);
  const chart = new Chart(cv, {
    type: 'line',
    data: { datasets: o.sets },
    options: {
      responsive: false, maintainAspectRatio: false, animation: false,
      layout: { padding: { top: 8, right: 10, left: 17, bottom: 0 } },
      plugins: {
        legend: { display: false }, tooltip: { enabled: false },
        frame: { label: o.label, bottom: o.bottom, labelDx: o.labelDx, xs: o.x.step, ys: o.y.step, ytitle: o.y.title }
      },
      scales: { x: withXTitle(o.x).scale, y: o.y.scale }
    }
  });
  for (let k = 0; k < 4; k++) {
    const a = chart.chartArea;
    const dw = pw - Math.round(a.right - a.left), dh = ph - Math.round(a.bottom - a.top);
    if (!dw && !dh) break;
    chart.resize(chart.width + dw, chart.height + dh);
  }
  const a = chart.chartArea;
  cv.style.left = (L - a.left) + 'px';
  cv.style.top = (T - a.top) + 'px';
}

const TI = 'I [L⊙ pc⁻²]', TS = 'Σ [M⊙ pc⁻²]', TV = 'v(R) [km/s]', TZ = 'σz(R) [km/s]', RA = 'R [arcsec]', RK = 'R [kpc]';
const DASH = [3, 2];

function galaxy(pos, a, b, c, v, s, lines) {
  panel(pos.a, { x: lg(a.xr[0], a.xr[1], logRTicks, logRLabels, RA), y: lg(a.yr[0], a.yr[1], a.yt, a.yl, TI), label: '(a)',
    sets: [line(a.R, a.I), ptsF(a.rR, a.rI, a.rF), pts(a.gR, a.gI, null, GREEN), vline(a.cut, a.yr[0], a.yr[1], GRAY)] });
  panel(pos.b, { x: lin(0, b.xr[0], 50, RA), y: lin(0, b.yr[0], b.yr[1], TS), label: '(b)',
    sets: [line(b.R, b.S), pts(b.rR, b.rS, b.rE)] });
  panel(pos.c, { x: lin(0, c.xr[0], c.xr[1], RA), y: lin(0, c.yr[0], c.yr[1], TS), label: '(c)',
    sets: [line(c.R, c.S), pts(c.rR, c.rS, c.rE)] });
  const vp = (box, R, V, xmax, lab) => panel(box, { x: lin(0, xmax, v.step, RK), y: lin(0, v.ymax, 50, TV), label: lab, bottom: true,
    sets: [line(R, V), pts(v.R, v.V, v.E), vline(lines[0], 0, v.ymax, MAG, DASH), vline(lines[1], 0, v.ymax, DGREEN, DASH)] });
  vp(pos.d, v.dR, v.dV, v.xd, '(d)');
  vp(pos.e, v.eR, v.eV, v.xe, '(e)');
  vp(pos.g, v.gR, v.gV, v.xg, '(g)');
  const sp = (box, sets, lab) => panel(box, { x: lin(0, s.xmax, 2, RK), y: lin(0, s.ymax, s.step, TZ), label: lab, labelDx: s.labDx,
    sets: sets.concat([pts(s.R, s.S, s.E), vline(lines[0], 0, s.ymax, MAG, DASH), vline(lines[1], 0, s.ymax, DGREEN, DASH)]) });
  sp(pos.f, [line(s.fR, s.fS), line(s.cR, s.cS, CYAN)], '(f)');
  sp(pos.h, [line(s.hR, s.hS)], '(h)');
}

galaxy(
  { a: [47, 50, 194, 195], b: [241, 49, 389, 197], c: [442, 49, 584, 196], d: [43, 247, 199, 403], e: [241, 247, 396, 403], f: [432, 247, 584, 403], g: [141, 455, 296, 611], h: [331, 455, 484, 611] },
  { xr: [0.155, 230], yr: [1.5e-6, 7000], yt: yt4036, yl: yl4036, cut: 4.2, R: a4036_R, I: a4036_I, gR: a4036_gR, gI: a4036_gI, rR: a4036_rR, rI: a4036_rI, rF: a4036_rF },
  { xr: [190], yr: [9, 2], R: b4036_R, S: b4036_S, rR: b4036_rR, rS: b4036_rS, rE: b4036_rE },
  { xr: [80, 20], yr: [75, 10], R: c4036_R, S: c4036_S, rR: c4036_rR, rS: c4036_rS, rE: c4036_rE },
  { step: 5, ymax: 226, xd: 22, xe: 21.5, xg: 21.3, R: v4036_R, V: v4036_V, E: v4036_E, dR: d4036_R, dV: d4036_V, eR: e4036_R, eV: e4036_V, gR: g4036_R, gV: g4036_V },
  { xmax: 10, ymax: 85, step: 20, R: s4036_R, S: s4036_S, E: s4036_E, fR: f4036_R, fS: f4036_S, cR: f4036_cR, cS: f4036_cS, hR: h4036_R, hS: h4036_S },
  dash4036
);
galaxy(
  { a: [638, 50, 786, 194], b: [840, 49, 983, 197], c: [1041, 49, 1173, 193], d: [636, 247, 791, 402], e: [834, 247, 990, 402], f: [1031, 247, 1176, 402], g: [733, 455, 888, 611], h: [923, 455, 1077, 611] },
  { xr: [0.165, 232], yr: [1.3e-7, 27000], yt: yt4256, yl: yl4256, cut: 10, R: a4256_R, I: a4256_I, gR: a4256_gR, gI: a4256_gI, rR: a4256_rR, rI: a4256_rI, rF: a4256_rF },
  { xr: [190], yr: [15, 2], R: b4256_R, S: b4256_S, rR: b4256_rR, rS: b4256_rS, rE: b4256_rE },
  { xr: [100, 20], yr: [900, 200], R: c4256_R, S: c4256_S, rR: c4256_rR, rS: c4256_rS, rE: c4256_rE },
  { step: 5, ymax: 270, xd: 31.9, xe: 32, xg: 31.8, R: v4256_R, V: v4256_V, E: v4256_E, dR: d4256_R, dV: d4256_V, eR: e4256_R, eV: e4256_V, gR: g4256_R, gV: g4256_V },
  { xmax: 12, ymax: 130, step: 20, R: s4256_R, S: s4256_S, E: s4256_E, fR: f4256_R, fS: f4256_S, cR: f4256_cR, cS: f4256_cS, hR: h4256_R, hS: h4256_S },
  dash4256
);
galaxy(
  { a: [47, 697, 195, 844], b: [240, 695, 390, 845], c: [442, 695, 589, 843], d: [43, 894, 199, 1051], e: [241, 894, 397, 1051], f: [432, 894, 589, 1051], g: [141, 1103, 296, 1259], h: [332, 1103, 491, 1259] },
  { xr: [0.155, 230], yr: [3.4e-9, 4500], yt: yt4368, yl: yl4368, cut: 4.6, R: a4368_R, I: a4368_I, gR: a4368_gR, gI: a4368_gI, rR: a4368_rR, rI: a4368_rI, rF: a4368_rF },
  { xr: [189], yr: [7.5, 1], R: b4368_R, S: b4368_S, rR: b4368_rR, rS: b4368_rS, rE: b4368_rE },
  { xr: [74.3, 10], yr: [11, 2], R: c4368_R, S: c4368_S, rR: c4368_rR, rS: c4368_rS, rE: c4368_rE },
  { step: 5, ymax: 191, xd: 31.9, xe: 31.9, xg: 32.1, R: v4368_R, V: v4368_V, E: v4368_E, dR: d4368_R, dV: d4368_V, eR: e4368_R, eV: e4368_V, gR: g4368_R, gV: g4368_V },
  { xmax: 10.9, ymax: 75, step: 10, R: s4368_R, S: s4368_S, E: s4368_E, fR: f4368_R, fS: f4368_S, cR: f4368_cR, cS: f4368_cS, hR: h4368_R, hS: h4368_S },
  dash4368
);
galaxy(
  { a: [641, 697, 780, 840], b: [833, 695, 981, 845], c: [1029, 695, 1182, 844], d: [636, 894, 791, 1051], e: [833, 894, 990, 1051], f: [1024, 894, 1180, 1051], g: [733, 1103, 888, 1259], h: [923, 1103, 1080, 1259] },
  { xr: [0.18, 110], yr: [0.004, 2030], yt: yt4380, yl: yl4380, cut: 7.7, R: a4380_R, I: a4380_I, gR: a4380_gR, gI: a4380_gI, rR: a4380_rR, rI: a4380_rI, rF: a4380_rF },
  { xr: [188], yr: [7.55, 1], R: b4380_R, S: b4380_S, rR: b4380_rR, rS: b4380_rS, rE: b4380_rE },
  { xr: [54.8, 10], yr: [9, 2], R: c4380_R, S: c4380_S, rR: c4380_rR, rS: c4380_rS, rE: c4380_rE },
  { step: 5, ymax: 240, xd: 28.5, xe: 28.6, xg: 28.5, R: v4380_R, V: v4380_V, E: v4380_E, dR: d4380_R, dV: d4380_V, eR: e4380_R, eV: e4380_V, gR: g4380_R, gV: g4380_V },
  { xmax: 8, ymax: 75, step: 10, R: s4380_R, S: s4380_S, E: s4380_E, fR: f4380_R, fS: f4380_S, cR: f4380_cR, cS: f4380_cS, hR: h4380_R, hS: h4380_S },
  dash4380
);
galaxy(
  { a: [347, 1346, 490, 1490], b: [535, 1343, 683, 1493], c: [739, 1343, 885, 1492], d: [339, 1542, 493, 1698], e: [536, 1542, 691, 1698], f: [734, 1542, 889, 1698], g: [435, 1752, 589, 1908], h: [632, 1752, 784, 1908] },
  { xr: [0.165, 154], yr: [0.26, 27000], yt: yt4458, yl: yl4458, cut: 30, R: a4458_R, I: a4458_I, gR: a4458_gR, gI: a4458_gI, rR: a4458_rR, rI: a4458_rI, rF: a4458_rF },
  { xr: [191], yr: [6.54, 1], R: b4458_R, S: b4458_S, rR: b4458_rR, rS: b4458_rS, rE: b4458_rE },
  { xr: [65, 10], yr: [110, 20], R: c4458_R, S: c4458_S, rR: c4458_rR, rS: c4458_rS, rE: c4458_rE },
  { step: 10, ymax: 330, xd: 52, xe: 52, xg: 52, R: v4458_R, V: v4458_V, E: v4458_E, dR: d4458_R, dV: d4458_V, eR: e4458_R, eV: e4458_V, gR: g4458_R, gV: g4458_V },
  { xmax: 13, ymax: 240, step: 50, labDx: 29, R: s4458_R, S: s4458_S, E: s4458_E, fR: f4458_R, fS: f4458_S, cR: f4458_cR, cS: f4458_cS, hR: h4458_R, hS: h4458_S },
  dash4458
);
</script>
</body>
</html>
